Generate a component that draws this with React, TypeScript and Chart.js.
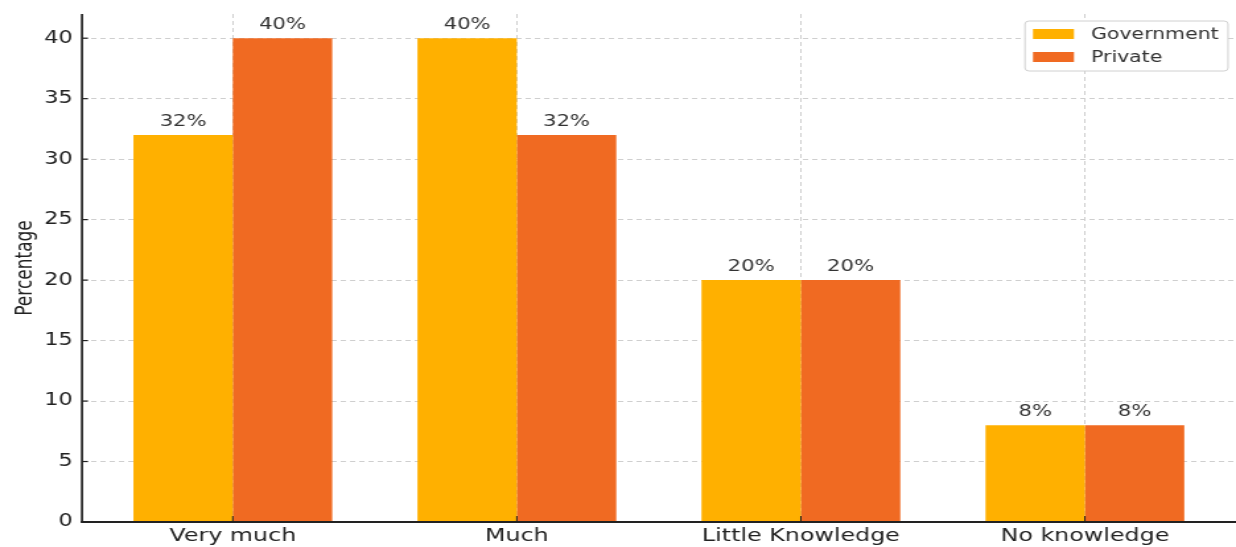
import { useEffect, useRef } from 'react';
import { Chart, registerables } from 'chart.js';

Chart.register(...registerables);

const categories = ['Very much', 'Much', 'Little Knowledge', 'No knowledge'];
const seriesNames = ['Government', 'Private'];
const governmentValues = [32, 40, 20, 8];
const privateValues = [40, 32, 20, 8];
const yTickValues = [0, 5, 10, 15, 20, 25, 30, 35, 40];

const colors = ['#FFB000', '#F06A22'];
const FONT = "'DejaVu Sans', sans-serif";
const OUT_W = 1236;
const OUT_H = 547;
const INNER_W = 936;
const STRETCH = OUT_W / INNER_W;

const overlayPlugin = {
  id: 'overlay',
  afterDatasetsDraw(chart: any) {
    const ctx = chart.ctx;
    ctx.save();
    ctx.font = `16px ${FONT}`;
    ctx.fillStyle = '#333333';
    ctx.textAlign = 'center';
    ctx.textBaseline = 'bottom';
    chart.data.datasets.forEach((ds: any, di: number) => {
      const meta = chart.getDatasetMeta(di);
      meta.data.forEach((el: any, i: number) => {
        const v = ds.data[i].y;
        ctx.fillText(`${v}%`, el.x, el.y - 5);
      });
    });
    ctx.restore();
  },
  afterDraw(chart: any) {
    const ctx = chart.ctx;
    const area = chart.chartArea;
    const xs = chart.scales.x;
    const ys = chart.scales.y;
    ctx.save();
    ctx.strokeStyle = '#222222';
    ctx.lineWidth = 1.7;
    ctx.beginPath();
    ctx.moveTo(area.left, area.top);
    ctx.lineTo(area.left, area.bottom);
    ctx.stroke();
    ctx.lineWidth = 2;
    ctx.beginPath();
    ctx.moveTo(area.left - 1, area.bottom);
    ctx.lineTo(area.right, area.bottom);
    ctx.stroke();
    ctx.lineWidth = 1.2;
    yTickValues.forEach((v) => {
      const y = ys.getPixelForValue(v);
      ctx.beginPath();
      ctx.moveTo(area.left, y);
      ctx.lineTo(area.left + 6 / STRETCH, y);
      ctx.stroke();
    });
    ctx.lineWidth = 1;
    categories.forEach((_, i) => {
      const x = xs.getPixelForValue(i);
      ctx.beginPath();
      ctx.moveTo(x, area.bottom);
      ctx.lineTo(x, area.bottom - 6);
      ctx.stroke();
    });
    const right = area.right - 8 / STRETCH;
    const left = right - 203 / STRETCH;
    const top = 21;
    const bottom = 71;
    ctx.fillStyle = '#ffffff';
    ctx.strokeStyle = '#d0d0d0';
    ctx.lineWidth = 1;
    ctx.beginPath();
    ctx.roundRect(left, top, right - left, bottom - top, 3);
    ctx.fill();
    ctx.stroke();
    ctx.font = `15.5px ${FONT}`;
    ctx.textAlign = 'left';
    ctx.textBaseline = 'middle';
    seriesNames.forEach((name, i) => {
      const cy = 34 + i * 23;
      ctx.fillStyle = colors[i];
      ctx.fillRect(left + 8 / STRETCH, cy - 5, 41 / STRETCH, 10);
      ctx.fillStyle = '#333333';
      ctx.fillText(name, left + 66 / STRETCH, cy + 1);
    });
    ctx.restore();
  },
};

export default function App() {
  const canvasRef = useRef<HTMLCanvasElement | null>(null);

  useEffect(() => {
    document.body.style.margin = '0';
    const canvas = canvasRef.current;
    if (!canvas) return;
    const chart = new Chart(canvas, {
      type: 'bar',
      data: {
        datasets: [
          {
            label: seriesNames[0],
            data: governmentValues.map((v, i) => ({ x: i, y: v })),
            backgroundColor: colors[0],
            categoryPercentage: 0.7,
            barPercentage: 1,
          },
          {
            label: seriesNames[1],
            data: privateValues.map((v, i) => ({ x: i, y: v })),
            backgroundColor: colors[1],
            categoryPercentage: 0.7,
            barPercentage: 1,
          },
        ],
      } as any,
      options: {
        responsive: false,
        devicePixelRatio: 1,
        animation: false,
        layout: { padding: { top: 14, right: 0, left: 0, bottom: 0 } },
        plugins: {
          legend: { display: false },
          tooltip: { enabled: false },
        },
        scales: {
          x: {
            type: 'linear',
            min: -0.531,
            max: 3.532,
            offset: false,
            afterBuildTicks: (s: any) => {
              s.ticks = categories.map((_, i) => ({ value: i }));
            },
            afterFit: (s: any) => {
              s.height = 25;
              s.paddingLeft = 0;
              s.paddingRight = 0;
            },
            ticks: {
              callback: (v: any) => categories[v] ?? '',
              font: { family: FONT, size: 18 },
              color: '#222222',
              padding: 4,
              autoSkip: false,
              maxRotation: 0,
            },
            grid: { color: '#cfcfcf', lineWidth: 1, drawTicks: false, offset: false },
            border: { display: false, dash: [4, 3] },
          },
          y: {
            min: 0,
            max: 42,
            afterBuildTicks: (s: any) => {
              s.ticks = yTickValues.map((v) => ({ value: v }));
            },
            afterFit: (s: any) => {
              s.width = 82 / STRETCH;
              s.paddingTop = 0;
              s.paddingBottom = 0;
            },
            ticks: {
              font: { family: FONT, size: 17 },
              color: '#222222',
              padding: 7,
            },
            title: {
              display: true,
              text: 'Percentage',
              font: { family: FONT, size: 17 },
              color: '#222222',
              padding: { top: 9, bottom: 0 },
            },
            grid: { color: '#cfcfcf', lineWidth: 1, drawTicks: false },
            border: { display: false, dash: [4, 3] },
          },
        },
      } as any,
      plugins: [overlayPlugin],
    });
    return () => chart.destroy();
  }, []);

  return (
    <div style={{ width: OUT_W, height: OUT_H, overflow: 'hidden' }}>
      <canvas
        ref={canvasRef}
        width={INNER_W}
        height={OUT_H}
        style={{ width: `${OUT_W}px`, height: `${OUT_H}px`, display: 'block' }}
      />
    </div>
  );
}
